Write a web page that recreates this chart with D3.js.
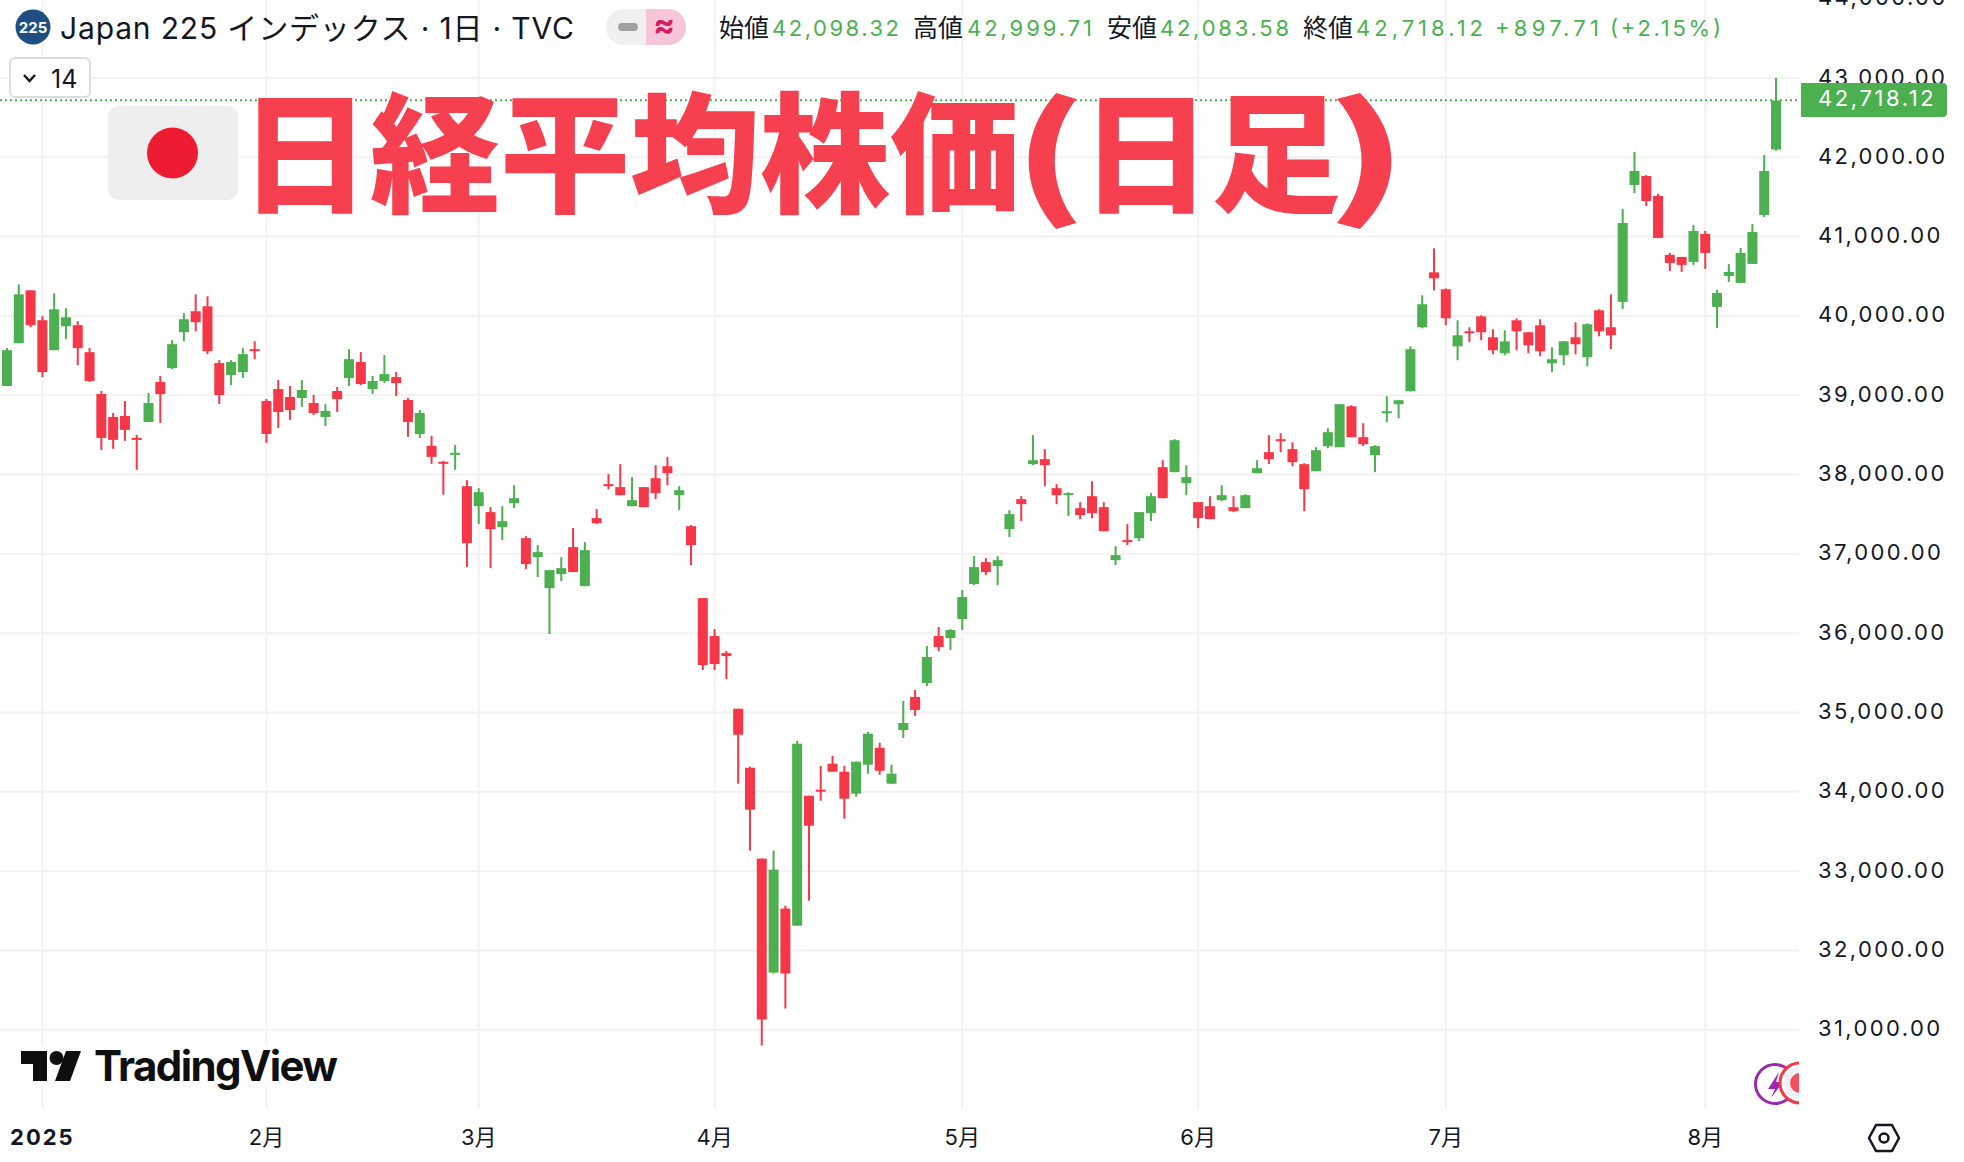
<!DOCTYPE html>
<html><head><meta charset="utf-8">
<script src="https://cdn.jsdelivr.net/npm/d3@7/dist/d3.min.js"></script>
<style>html,body{margin:0;padding:0;background:#fff;overflow:hidden}svg{display:block}text{font-family:Inter,"Noto Sans CJK JP",sans-serif}</style>
</head><body><svg id="c" width="1964" height="1162"></svg>
<script>
const opens=[39116,39656,40323,39946,39568,39870,39883,39543,39015,38726,
38739,38462,38663,39166,39342,39795,40059,40121,39405,39254,
39292,39581,38927,39078,38978,38965,38902,38726,39053,39216,
39418,39078,39179,39229,38940,38512,38362,38161,38249,37853,
37601,37526,37337,37639,37198,36959,36568,36745,37085,36593,
37450,37879,37841,37601,37841,37954,38105,37740,37349,36442,
35963,35749,35047,34303,33157,31720,32527,32312,33950,34026,
34354,34253,33976,34341,34555,34102,34779,35195,35371,35963,
35938,36178,36619,36896,36845,37312,37690,38131,38194,37828,
37740,37576,37727,37589,36921,37173,37198,37513,38093,38030,
37891,37652,37601,37677,37589,37576,38017,38282,38446,38320,
38131,38042,38357,38345,38861,38471,38244,38773,38887,39050,
39857,40550,40336,39617,39806,39995,39731,39529,39945,39794,
39882,39403,39504,39731,39479,40071,39857,40177,41651,41764,
41512,40769,40744,40681,41034,40114,40504,40416,40656,41273,
42098.32];
const highs=[39594,40398,40323,39996,40285,40096,39933,39594,39053,38776,
38927,38500,39028,39242,39694,40033,40272,40247,39443,39443,
39594,39681,38952,39191,39116,39191,39003,38890,39103,39581,
39543,39242,39506,39292,38965,38814,38487,38173,38374,37929,
37828,37589,37601,37866,37223,37110,36795,36959,37324,37148,
37564,38005,38131,37967,37841,38118,38219,37853,37362,36442,
36052,35774,35047,34316,33157,33257,32564,34643,33950,34328,
34454,34328,34379,34757,34618,34341,35144,35283,35837,36077,
36052,36543,36971,36946,36971,37551,37727,38496,38320,37879,
37778,37652,37916,37652,37097,37375,37526,37765,38181,38446,
38118,37652,37727,37866,37727,37753,38181,38496,38521,38408,
38143,38345,38584,38887,38874,38647,38370,38987,38937,39617,
40260,40852,40348,39945,39857,40008,39832,39819,39970,39794,
39958,39605,39680,39920,39907,40084,40273,41349,42067,41777,
41538,40794,40744,41147,41071,40328,40656,40857,41160,42029,
42999.71];
const lows=[39116,39656,39858,39229,39568,39707,39380,39166,38311,38324,
38425,38060,38663,38651,39330,39681,39807,39518,38890,39128,
39216,39455,38399,38588,38689,38852,38751,38613,38789,39116,
39128,39015,39154,38990,38475,38462,38135,37746,38060,36833,
37375,36820,37173,37576,36808,36707,35989,36656,36770,36593,
37375,37816,37740,37601,37589,37690,37866,37551,36858,35535,
35535,35422,34102,33257,30800,31708,31267,32312,32627,33887,
34253,33661,33938,34228,34215,34102,34678,34955,35333,35774,
35787,36039,36606,36732,36606,37211,37412,38118,37853,37627,
37475,37438,37450,37286,36858,37110,37160,37412,37702,38030,
37740,37324,37438,37664,37526,37576,38017,38131,38282,38105,
37538,38042,38332,38345,38471,38358,38030,38660,38710,39050,
39844,40323,39882,39441,39668,39693,39517,39504,39567,39529,
39491,39290,39378,39517,39365,39743,39580,40089,41550,41386,
40983,40567,40555,40643,40593,39849,40429,40416,40656,41248,
42083.58];
const closes=[39568,40272,39883,39292,40084,39983,39594,39179,38462,38437,
38563,38437,38902,39015,39644,39958,39920,39556,39003,39418,
39518,39556,38512,38789,38814,39066,38776,38802,38952,39455,
39141,39179,39267,39154,38663,38776,38223,38135,38274,37135,
37778,37312,37412,37702,36871,37022,36795,36820,36770,37047,
37387,37853,37740,37677,37589,37765,38017,37803,37110,35598,
35611,35711,34719,33774,31128,33018,31708,34606,33572,34001,
34253,33913,34379,34732,34265,34228,34867,35031,35699,35825,
36039,36455,36833,36770,36921,37501,37627,38181,38118,37740,
37765,37488,37513,37286,36984,37148,37526,37727,37702,38433,
37967,37450,37438,37740,37538,37740,38080,38194,38420,38156,
37816,38307,38534,38887,38471,38383,38358,38798,38937,39580,
40147,40474,39970,39756,39781,39794,39567,39680,39806,39630,
39554,39454,39680,39643,39895,39806,39756,41172,41827,41449,
40983,40668,40643,41071,40794,40290,40555,40794,41059,41827,
42718.12];
const priceTicks=[31000,32000,33000,34000,35000,36000,37000,38000,39000,40000,41000,42000,43000,44000];
const monthLabels=["2025","2月","3月","4月","5月","6月","7月","8月"];
const monthIndex=[3,22,40,60,81,101,122,144];
const legendLabels=["始値","高値","安値","終値"];
const legendValues=["42,098.32","42,999.71","42,083.58","42,718.12"];
const changeLabels=["+897.71","(+2.15%)"];
const headerTitle="Japan 225 インデックス · 1日 · TVC";
const bigTitleRuns=["日経平均株価","(","日足",")"];

const GREEN="#4caf50",RED="#f53748",GRID="#f2f2f3",INK="#131722",TITLE="#f64050";
const svg=d3.select("#c");
const x=d3.scaleLinear().domain([0,150]).range([7,1776]);
const y=d3.scaleLinear().domain([31000,43000]).range([1029.7,78]);
const rows=d3.range(opens.length);
const PW=1799;

// grid
svg.append("g").selectAll("line").data(priceTicks).join("line")
 .attr("x1",0).attr("x2",PW).attr("y1",d=>y(d)).attr("y2",d=>y(d)).attr("stroke",GRID).attr("stroke-width",2);
svg.append("g").selectAll("line").data(monthIndex).join("line")
 .attr("x1",d=>x(d)).attr("x2",d=>x(d)).attr("y1",0).attr("y2",1109).attr("stroke",GRID).attr("stroke-width",2);

// logo backing
svg.append("rect").attr("x",14).attr("y",1046).attr("width",332).attr("height",40).attr("fill","#fff");

// candles
const g=svg.append("g");
const col=i=>closes[i]>=opens[i]?GREEN:RED;
g.selectAll("rect.w").data(rows).join("rect").attr("class","w")
 .attr("x",i=>x(i)-1).attr("width",2).attr("y",i=>y(highs[i])).attr("height",i=>Math.max(1,y(lows[i])-y(highs[i]))).attr("fill",col);
g.selectAll("rect.b").data(rows).join("rect").attr("class","b")
 .attr("x",i=>x(i)-5).attr("width",10).attr("y",i=>y(Math.max(opens[i],closes[i]))).attr("height",i=>Math.max(2,Math.abs(y(opens[i])-y(closes[i])))).attr("fill",col);

// last price line
svg.append("line").attr("x1",0).attr("x2",PW).attr("y1",y(closes[150])).attr("y2",y(closes[150]))
 .attr("stroke",GREEN).attr("stroke-width",2).attr("stroke-dasharray","2 3");

// bottom-right event icons
svg.append("circle").attr("cx",1775).attr("cy",1084).attr("r",19.5).attr("fill","#fff").attr("stroke","#9c27b0").attr("stroke-width",3);
svg.append("path").attr("d","M1779 1072 L1768 1089 L1775 1089 L1771 1098 L1783 1082 L1776 1082 Z").attr("fill","#9c27b0");
svg.append("circle").attr("cx",1800).attr("cy",1083).attr("r",20).attr("fill","#fff").attr("stroke","#f53748").attr("stroke-width",3);
svg.append("circle").attr("cx",1800).attr("cy",1083).attr("r",16).attr("fill","#edf0f7");
svg.append("circle").attr("cx",1800).attr("cy",1083).attr("r",10).attr("fill","#f1515e");

// axis panel
svg.append("rect").attr("x",PW).attr("y",0).attr("width",1964-PW).attr("height",1162).attr("fill","#fff");
svg.append("rect").attr("x",0).attr("y",1109).attr("width",1964).attr("height",53).attr("fill","#fff");

svg.append("g").selectAll("text").data(priceTicks).join("text")
 .attr("x",1818).attr("y",d=>y(d)-1.5).attr("dominant-baseline","central")
 .attr("font-size",22).attr("letter-spacing",2.4).attr("fill",INK)
 .text(d3.format(",.2f"));

// last price tag
svg.append("path").attr("d","M1801 83 H1943 a4 4 0 0 1 4 4 V113 a4 4 0 0 1 -4 4 H1801 Z").attr("fill",GREEN);
svg.append("text").attr("x",1818).attr("y",98).attr("dominant-baseline","central")
 .attr("font-size",22).attr("letter-spacing",2.6).attr("fill","#fff").text(d3.format(",.2f")(closes[150]));

// time axis
svg.append("g").selectAll("text").data(monthIndex).join("text")
 .attr("x",d=>x(d)).attr("y",1137).attr("text-anchor","middle").attr("dominant-baseline","central")
 .attr("font-size",22).attr("fill",INK)
 .attr("font-weight",(d,i)=>i===0?700:400).attr("letter-spacing",(d,i)=>i===0?2:0)
 .text((d,i)=>monthLabels[i]);
svg.append("path").attr("d","M1869 1138 L1876 1125 H1892 L1899 1138 L1892 1151 H1876 Z").attr("fill","none").attr("stroke","#131722").attr("stroke-width",2.5).attr("stroke-linejoin","round");
svg.append("circle").attr("cx",1884).attr("cy",1138).attr("r",4.5).attr("fill","none").attr("stroke","#131722").attr("stroke-width",2.5);

// header
svg.append("circle").attr("cx",33).attr("cy",27).attr("r",17.5).attr("fill","#1f4e82");
svg.append("text").attr("x",33).attr("y",27.5).attr("text-anchor","middle").attr("dominant-baseline","central")
 .attr("fill","#fff").attr("font-size",15).attr("font-weight",700).text("225");
svg.append("text").attr("x",60).attr("y",28).attr("dominant-baseline","central").attr("font-size",30)
 .attr("textLength",514).attr("lengthAdjust","spacing").attr("fill",INK).text(headerTitle);
svg.append("path").attr("d","M646 9 H624 a18 18 0 0 0 0 36 H646 Z").attr("fill","#f0f0f0");
svg.append("path").attr("d","M646 9 H668 a18 18 0 0 1 0 36 H646 Z").attr("fill","#f6c5d8");
svg.append("rect").attr("x",618).attr("y",23).attr("width",20).attr("height",8).attr("rx",4).attr("fill","#a0a0a0");
svg.append("text").attr("x",664).attr("y",24).attr("text-anchor","middle").attr("dominant-baseline","central").attr("font-size",32).attr("font-weight",700).attr("fill","#d81b60").text("≈");
const labelX=[719,913,1107,1303], valueX=[772,967,1160,1356], valueLen=[127,125,129,127];
svg.append("g").selectAll("text").data(legendLabels).join("text")
 .attr("x",(d,i)=>labelX[i]).attr("y",28).attr("dominant-baseline","central").attr("font-size",25).attr("fill",INK).text(d=>d);
svg.append("g").selectAll("text").data(legendValues).join("text")
 .attr("x",(d,i)=>valueX[i]).attr("y",28).attr("dominant-baseline","central").attr("font-size",22)
 .attr("textLength",(d,i)=>valueLen[i]).attr("lengthAdjust","spacing").attr("fill",GREEN).text(d=>d);
const changeX=[1495,1610], changeLen=[104,111];
svg.append("g").selectAll("text").data(changeLabels).join("text")
 .attr("x",(d,i)=>changeX[i]).attr("y",28).attr("dominant-baseline","central").attr("font-size",22)
 .attr("textLength",(d,i)=>changeLen[i]).attr("lengthAdjust","spacing").attr("fill",GREEN).text(d=>d);

// interval box
svg.append("rect").attr("x",10).attr("y",58).attr("width",80).attr("height",39).attr("rx",5).attr("fill","#fff").attr("stroke","#dcdcdc").attr("stroke-width",2);
svg.append("path").attr("d","M24 75 L29.5 81 L35 75").attr("fill","none").attr("stroke",INK).attr("stroke-width",2.5);
svg.append("text").attr("x",51).attr("y",79).attr("dominant-baseline","central").attr("font-size",25).attr("fill",INK).text("14");

// flag
svg.append("rect").attr("x",108).attr("y",106).attr("width",130).attr("height",94).attr("rx",11).attr("fill","#eeeeee");
svg.append("circle").attr("cx",172.5).attr("cy",153).attr("r",25.5).attr("fill","#ee1c33");

// big title
const titleX=[240,1014,1081,1325], titleSX=[1,1.4,1,1.6];
svg.append("g").selectAll("text").data(bigTitleRuns).join("text")
 .attr("transform",(d,i)=>`translate(${titleX[i]},202) scale(${titleSX[i]},1)`)
 .attr("font-size",130).attr("font-weight",900).style("font-family",'"Noto Sans CJK JP"').attr("fill",TITLE).text(d=>d);

// TradingView logo
const ink="#0f0f0f";
svg.append("path").attr("d","M21 1051 H47 V1081 H33 V1064 H21 Z").attr("fill",ink);
svg.append("circle").attr("cx",56.5).attr("cy",1058).attr("r",7).attr("fill",ink);
svg.append("path").attr("d","M66 1051 H81 L70 1081 H55 Z").attr("fill",ink);
svg.append("text").attr("x",94).attr("y",1081).attr("font-size",42).attr("font-weight",700).attr("letter-spacing",-1.6).attr("fill",ink).text("TradingView");
</script></body></html>
